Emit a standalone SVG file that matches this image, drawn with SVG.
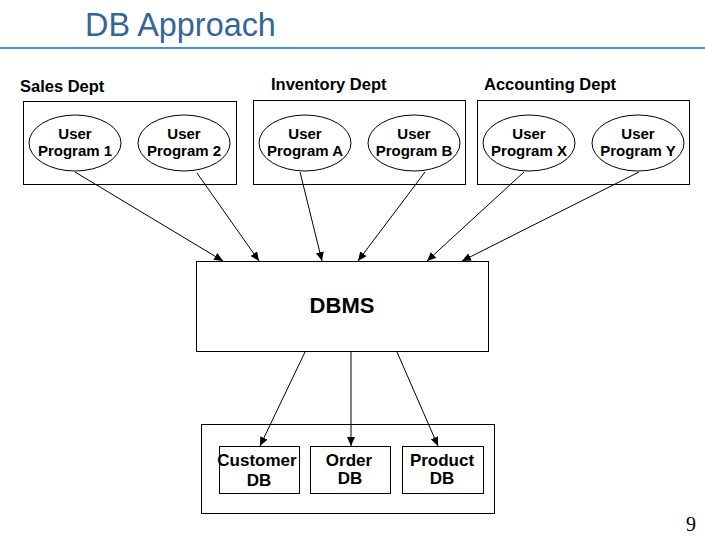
<svg xmlns="http://www.w3.org/2000/svg" width="705" height="539" viewBox="0 0 705 539">
<defs>
<marker id="ah" markerWidth="9" markerHeight="8" refX="9" refY="4" orient="auto" markerUnits="userSpaceOnUse">
<path d="M0,0 L9,4 L0,8 Z" fill="#000"/>
</marker>
<style>
.box{fill:#fff;stroke:#000;stroke-width:1}
.ell{fill:#fff;stroke:#000;stroke-width:1}
.t{font-family:"Liberation Sans",Arial,sans-serif;font-weight:bold;fill:#000;text-anchor:middle}
.ut{font-size:15px}
.db{font-size:17px}
.dept{font-family:"Liberation Sans",Arial,sans-serif;font-weight:bold;font-size:16.5px;fill:#000}
.conn line{stroke:#000;stroke-width:1;marker-end:url(#ah)}
</style>
</defs>
<rect width="705" height="539" fill="#fff"/>
<g id="title">
<text x="85" y="36" font-family="Liberation Sans,Arial,sans-serif" font-size="32.4" fill="#336699">DB Approach</text>
<line x1="0" y1="48" x2="705" y2="48" stroke="#0070C0" stroke-width="1.5"/>
</g>
<g id="sales">
<text class="dept" x="20" y="92">Sales Dept</text>
<rect class="box" x="23.5" y="101.5" width="213" height="83"/>
</g>
<g id="inventory">
<text class="dept" x="271" y="90">Inventory Dept</text>
<rect class="box" x="253.5" y="100.5" width="212" height="84"/>
</g>
<g id="accounting">
<text class="dept" x="484" y="90">Accounting Dept</text>
<rect class="box" x="477.5" y="100.5" width="212" height="84"/>
</g>
<g id="prog1"><ellipse class="ell" cx="75" cy="143" rx="46" ry="28"/><text class="t ut" x="75" y="139">User</text><text class="t ut" x="75" y="156">Program 1</text></g>
<g id="prog2"><ellipse class="ell" cx="184" cy="143" rx="46" ry="28"/><text class="t ut" x="184" y="139">User</text><text class="t ut" x="184" y="156">Program 2</text></g>
<g id="progA"><ellipse class="ell" cx="305" cy="143" rx="46" ry="28"/><text class="t ut" x="305" y="139">User</text><text class="t ut" x="305" y="156">Program A</text></g>
<g id="progB"><ellipse class="ell" cx="414" cy="143" rx="46" ry="28"/><text class="t ut" x="414" y="139">User</text><text class="t ut" x="414" y="156">Program B</text></g>
<g id="progX"><ellipse class="ell" cx="529" cy="143" rx="46" ry="28"/><text class="t ut" x="529" y="139">User</text><text class="t ut" x="529" y="156">Program X</text></g>
<g id="progY"><ellipse class="ell" cx="638" cy="143" rx="46" ry="28"/><text class="t ut" x="638" y="139">User</text><text class="t ut" x="638" y="156">Program Y</text></g>
<g id="dbms"><rect class="box" x="196.5" y="261.5" width="292" height="90"/><text class="t" x="342" y="313" font-size="22">DBMS</text></g>
<g id="dbcontainer"><rect class="box" x="201.5" y="424.5" width="293" height="89"/></g>
<g id="customerdb"><rect class="box" x="219.5" y="446.5" width="80" height="47"/><text class="t db" x="257" y="466">Customer</text><text class="t db" x="259" y="486">DB</text></g>
<g id="orderdb"><rect class="box" x="310.5" y="446.5" width="80" height="47"/><text class="t db" x="349" y="466">Order</text><text class="t db" x="350" y="484">DB</text></g>
<g id="productdb"><rect class="box" x="402.5" y="446.5" width="81" height="47"/><text class="t db" x="442" y="466">Product</text><text class="t db" x="442" y="484">DB</text></g>
<g id="connectors" class="conn">
<line x1="75" y1="172" x2="223" y2="261"/>
<line x1="197" y1="173" x2="259" y2="261"/>
<line x1="300" y1="172" x2="322" y2="261"/>
<line x1="425" y1="172" x2="358" y2="261"/>
<line x1="524" y1="172" x2="427" y2="261"/>
<line x1="639" y1="172" x2="462" y2="261"/>
<line x1="305" y1="352" x2="260" y2="446"/>
<line x1="351" y1="352" x2="351" y2="446"/>
<line x1="397" y1="352" x2="438" y2="446"/>
</g>
<text x="686" y="531" font-family="Liberation Serif,Times New Roman,serif" font-size="20" fill="#000">9</text>
</svg>
